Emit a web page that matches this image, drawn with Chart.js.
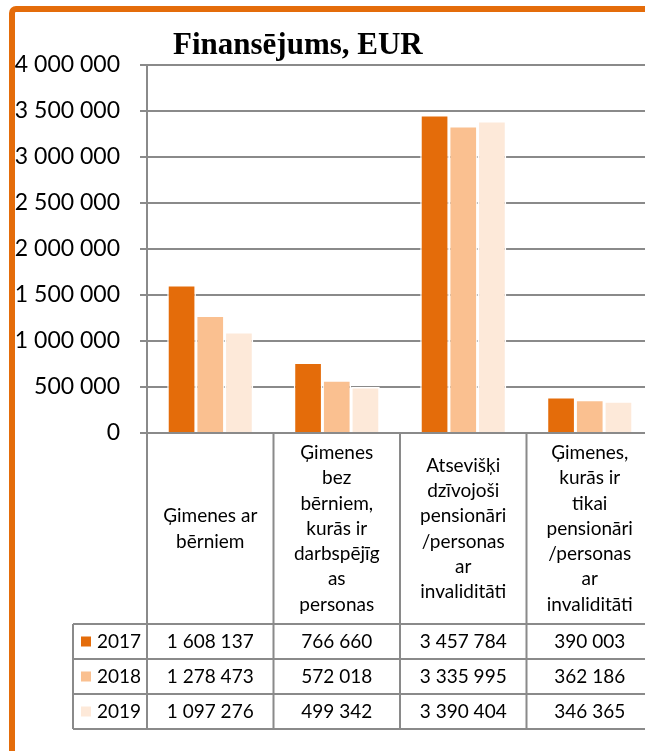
<!DOCTYPE html>
<html lang="lv">
<head>
    <meta charset="UTF-8">
    <title>Finansējums, EUR</title>
    <script src="https://cdn.jsdelivr.net/npm/chart.js"></script>
    <style>
        html, body { margin: 0; padding: 0; background: #fff; overflow: hidden; }
        #wrap { position: absolute; left: 0; top: 0; width: 660px; height: 751px; }
        #frame {
            position: absolute; left: 9px; top: 6px; width: 700px; height: 800px;
            border-left: 6px solid #E46C0A; border-top: 6px solid #E46C0A;
            border-top-left-radius: 7px; box-sizing: border-box;
        }
        #title {
            position: absolute; left: 173px; top: 26px;
            font: bold 31px "Liberation Serif", serif; color: #000; white-space: nowrap;
        }
        canvas { position: absolute; left: 0; top: 0; }
    </style>
</head>
<body>
<div id="wrap">
    <canvas id="finChart" width="660" height="751"></canvas>
    <div id="frame"></div>
    <div id="title">Finansējums, EUR</div>
</div>
<script>
    // categories (multi-line, as wrapped in the data table)
    const categories = [
        ['Ģimenes ar', 'bērniem'],
        ['Ģimenes', 'bez', 'bērniem,', 'kurās ir', 'darbspējīg', 'as', 'personas'],
        ['Atsevišķi', 'dzīvojoši', 'pensionāri', '/personas', 'ar', 'invaliditāti'],
        ['Ģimenes,', 'kurās ir', 'tikai', 'pensionāri', '/personas', 'ar', 'invaliditāti']
    ];
    const years = ['2017', '2018', '2019'];
    const values2017 = [1608137, 766660, 3457784, 390003];
    const values2018 = [1278473, 572018, 3335995, 362186];
    const values2019 = [1097276, 499342, 3390404, 346365];
    const seriesColors = ['#E46C0A', '#FAC090', '#FDE9D9'];

    const yMax = 4000000;
    const yStep = 500000;

    const gridGray = '#8a8a8a';
    const txtFont = '"Lato", "DejaVu Sans", sans-serif';

    function fmt(v) {
        return String(v).replace(/\B(?=(\d{3})+(?!\d))/g, ' ');
    }

    const seriesValues = [values2017, values2018, values2019];

    // draws the data table (category cells + value rows) from the chart's scales
    const dataTablePlugin = {
        id: 'dataTable',
        afterDraw(chart) {
            const ctx = chart.ctx;
            const x = chart.scales.x;
            const area = chart.chartArea;
            const n = categories.length;
            const catW = x.width / n;
            const rowTop = x.bottom;
            const rowH = 35;
            const legendLeft = 73;
            const rows = years.length;
            const tableBottom = rowTop + rowH * rows;

            ctx.save();
            ctx.strokeStyle = gridGray;
            ctx.lineWidth = 2;
            // horizontal lines
            for (let r = 0; r <= rows; r++) {
                const yy = rowTop + r * rowH;
                ctx.beginPath();
                ctx.moveTo(legendLeft, yy);
                ctx.lineTo(chart.width, yy);
                ctx.stroke();
            }
            // vertical lines at category boundaries
            for (let i = 0; i <= n; i++) {
                const xx = x.getPixelForValue(i) - catW / 2;
                ctx.beginPath();
                ctx.moveTo(xx, area.bottom);
                ctx.lineTo(xx, tableBottom);
                ctx.stroke();
            }
            ctx.beginPath();
            ctx.moveTo(legendLeft, rowTop);
            ctx.lineTo(legendLeft, tableBottom);
            ctx.stroke();

            // row contents
            ctx.font = '19px ' + txtFont;
            ctx.fillStyle = '#000';
            ctx.textBaseline = 'middle';
            for (let r = 0; r < rows; r++) {
                const cy = rowTop + r * rowH + rowH / 2;
                ctx.fillStyle = seriesColors[r];
                ctx.fillRect(81, cy - 5, 10, 10);
                ctx.fillStyle = '#000';
                ctx.textAlign = 'left';
                ctx.fillText(years[r], 97, cy);
                ctx.textAlign = 'center';
                for (let i = 0; i < n; i++) {
                    ctx.fillText(fmt(seriesValues[r][i]), x.getPixelForValue(i), cy);
                }
            }
            ctx.restore();
        }
    };

    const ctx = document.getElementById('finChart').getContext('2d');
    const finChart = new Chart(ctx, {
        type: 'bar',
        data: {
            labels: categories,
            datasets: years.map((yr, k) => ({
                label: yr,
                data: seriesValues[k],
                backgroundColor: seriesColors[k],
                borderColor: '#ffffff',
                borderWidth: { top: 1.5, left: 1.5, right: 1.5, bottom: 0 },
                borderSkipped: false,
                barPercentage: 1,
                categoryPercentage: 0.68
            }))
        },
        options: {
            responsive: false,
            devicePixelRatio: 1,
            animation: false,
            layout: { padding: { top: 65, right: 7, bottom: 127, left: 0 } },
            plugins: {
                legend: { display: false },
                title: { display: false },
                tooltip: { enabled: false }
            },
            scales: {
                x: {
                    grid: { display: false, drawTicks: false },
                    border: { display: true, color: gridGray, width: 2 },
                    ticks: {
                        color: '#000',
                        font: { family: txtFont, size: 19, lineHeight: 1.33 },
                        maxRotation: 0,
                        autoSkip: false,
                        crossAlign: 'center',
                        padding: 20
                    },
                    afterFit(scale) { scale.height = 191; }
                },
                y: {
                    min: 0,
                    max: yMax,
                    ticks: {
                        stepSize: yStep,
                        color: '#000',
                        font: { family: txtFont, size: 23 },
                        padding: 20,
                        callback: v => fmt(v)
                    },
                    grid: { color: gridGray, lineWidth: 2, tickLength: 7 },
                    border: { display: true, color: gridGray, width: 2 },
                    afterFit(scale) { scale.width = 147; }
                }
            }
        },
        plugins: [dataTablePlugin]
    });
</script>
</body>
</html>
